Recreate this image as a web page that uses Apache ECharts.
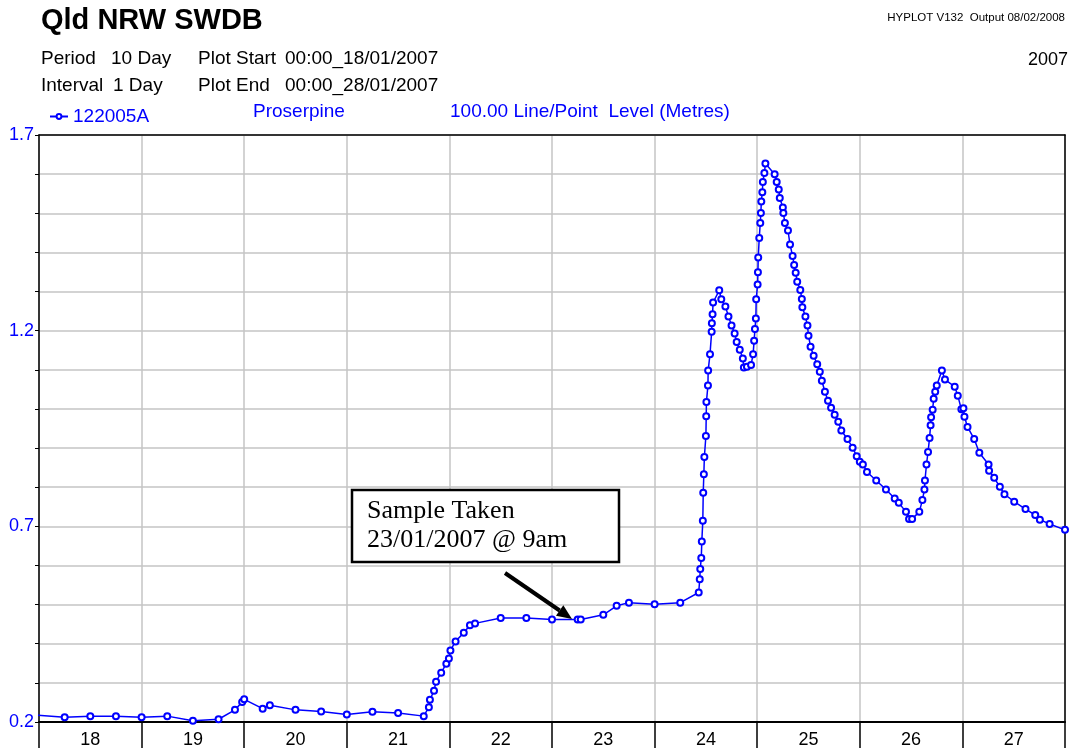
<!DOCTYPE html>
<html>
<head>
<meta charset="utf-8">
<script src="https://cdn.jsdelivr.net/npm/echarts@6/dist/echarts.min.js"></script>
<style>
  html, body { margin: 0; padding: 0; background: #fff; }
  #chart { width: 1072px; height: 749px; }
</style>
</head>
<body>
<div id="chart"></div>
<script>
// day labels shown in the middle of each day
const dayLabels = ['18', '19', '20', '21', '22', '23', '24', '25', '26', '27'];

// time of each reading, in day of January 2007 (decimal)
const readingDays = [
  17.75, 18.25, 18.5, 18.75, 19.0, 19.25, 19.5, 19.75, 19.91, 19.98,
  20.0, 20.18, 20.25, 20.5, 20.75, 21.0, 21.25, 21.5, 21.75, 21.8,
  21.81, 21.85, 21.87, 21.92, 21.97, 21.995, 22.01, 22.06, 22.14, 22.2,
  22.25, 22.5, 22.75, 23.0, 23.25, 23.28, 23.5, 23.63, 23.75, 24.0,
  24.25, 24.43, 24.44, 24.445, 24.455, 24.46, 24.47, 24.474, 24.48, 24.485,
  24.5, 24.503, 24.505, 24.52, 24.522, 24.54, 24.556, 24.558, 24.565, 24.57,
  24.63, 24.65, 24.69, 24.72, 24.75, 24.78, 24.8, 24.83, 24.86, 24.87,
  24.9, 24.94, 24.96, 24.97, 24.978, 24.987, 24.99, 25.004, 25.007, 25.01,
  25.02, 25.03, 25.036, 25.04, 25.05, 25.055, 25.07, 25.08, 25.17, 25.19,
  25.21, 25.22, 25.25, 25.255, 25.27, 25.3, 25.32, 25.345, 25.36, 25.375,
  25.39, 25.42, 25.435, 25.44, 25.47, 25.49, 25.5, 25.52, 25.55, 25.585,
  25.61, 25.63, 25.66, 25.69, 25.72, 25.755, 25.79, 25.82, 25.88, 25.93,
  25.97, 26.0, 26.03, 26.07, 26.16, 26.255, 26.34, 26.38, 26.45, 26.48,
  26.51, 26.58, 26.61, 26.63, 26.635, 26.65, 26.665, 26.68, 26.69, 26.695,
  26.71, 26.72, 26.735, 26.75, 26.8, 26.83, 26.925, 26.955, 26.99, 27.01,
  27.02, 27.05, 27.115, 27.165, 27.255, 27.26, 27.31, 27.365, 27.41, 27.505,
  27.615, 27.71, 27.755, 27.85, 28.0
];

// water level (metres) at each reading
const levels = [
  0.222, 0.212, 0.215, 0.215, 0.212, 0.215, 0.203, 0.207, 0.231, 0.251,
  0.258, 0.234, 0.243, 0.231, 0.227, 0.219, 0.226, 0.223, 0.215, 0.238,
  0.257, 0.280, 0.303, 0.326, 0.349, 0.362, 0.383, 0.406, 0.428, 0.447,
  0.452, 0.466, 0.466, 0.462, 0.462, 0.462, 0.474, 0.497, 0.505, 0.501,
  0.505, 0.531, 0.565, 0.591, 0.619, 0.661, 0.714, 0.786, 0.833, 0.877,
  0.931, 0.981, 1.018, 1.060, 1.098, 1.140, 1.197, 1.219, 1.242, 1.272,
  1.303, 1.280, 1.262, 1.236, 1.213, 1.193, 1.171, 1.151, 1.129, 1.106,
  1.108, 1.112, 1.140, 1.174, 1.204, 1.231, 1.280, 1.318, 1.349, 1.387,
  1.437, 1.475, 1.501, 1.530, 1.554, 1.580, 1.603, 1.627, 1.600, 1.580,
  1.561, 1.539, 1.515, 1.501, 1.475, 1.456, 1.420, 1.391, 1.368, 1.348,
  1.325, 1.304, 1.281, 1.260, 1.236, 1.213, 1.187, 1.159, 1.136, 1.114,
  1.095, 1.072, 1.044, 1.021, 1.003, 0.985, 0.967, 0.945, 0.923, 0.901,
  0.879, 0.865, 0.858, 0.839, 0.817, 0.794, 0.771, 0.760, 0.737, 0.719,
  0.719, 0.737, 0.767, 0.794, 0.817, 0.858, 0.890, 0.926, 0.958, 0.979,
  0.998, 1.026, 1.044, 1.060, 1.098, 1.075, 1.057, 1.034, 0.999, 1.002,
  0.980, 0.954, 0.923, 0.888, 0.858, 0.842, 0.824, 0.801, 0.782, 0.763,
  0.744, 0.729, 0.717, 0.706, 0.691
];

// y labels drawn only every 0.5 m
const yLabelValues = [0.2, 0.7, 1.2, 1.7];

const BLUE = '#0000ff';
const SANS = '"Liberation Sans", Arial, sans-serif';
const SERIF = '"Liberation Serif", "Times New Roman", serif';

let myChart = echarts.init(document.getElementById('chart'), null, { renderer: 'canvas' });

function headerText(x, y, text, size, color, align, weight) {
  return {
    type: 'text', x: x, y: y, z: 10,
    style: {
      text: text, fill: color || '#000', font: (weight || 'normal') + ' ' + size + 'px ' + SANS,
      textAlign: align || 'left', textVerticalAlign: 'middle'
    }
  };
}

// plain black frame line for the top and right sides of the plot
const frameAxis = {
  axisLine: { show: true, lineStyle: { color: '#000', width: 1.5 } },
  axisTick: { show: false }, axisLabel: { show: false }, splitLine: { show: false }
};

// arrow from the note box to the sample point
const tip = [572, 619];
const from = [505, 573];
const dx = tip[0] - from[0], dy = tip[1] - from[1];
const len = Math.sqrt(dx * dx + dy * dy);
const ux = dx / len, uy = dy / len;
const base = [tip[0] - 15 * ux, tip[1] - 15 * uy];
const px = -uy * 6.5, py = ux * 6.5;

let option = {
  animation: false,
  backgroundColor: '#fff',
  grid: {
    left: 39, top: 135, width: 1026, height: 588
  },
  legend: {
    left: 44, top: 102,
    data: ['122005A'],
    itemWidth: 18, itemHeight: 6, itemGap: 6,
    textStyle: { color: BLUE, fontSize: 19, fontFamily: SANS },
    selectedMode: false
  },
  xAxis: [
    {
      type: 'value', min: 18, max: 28, interval: 1,
      axisLine: { show: true, lineStyle: { color: '#000', width: 2 } },
      axisTick: { show: true, inside: false, length: 26, lineStyle: { color: '#000', width: 1.5 } },
      axisLabel: { show: false },
      splitLine: { show: true, lineStyle: { color: '#c4c4c4', width: 1.5 } }
    },
    {
      type: 'category', position: 'bottom', data: dayLabels, boundaryGap: true,
      axisLine: { show: false }, axisTick: { show: false }, splitLine: { show: false },
      axisLabel: { color: '#000', fontSize: 18, fontFamily: SANS, margin: 9, interval: 0 }
    },
    Object.assign({ type: 'value', position: 'top', min: 18, max: 28 }, frameAxis)
  ],
  yAxis: [
    {
      type: 'value', min: 0.2, max: 1.7, interval: 0.1,
      axisLine: { show: true, lineStyle: { color: '#000', width: 1.5 } },
      axisTick: { show: true, inside: false, length: 4, lineStyle: { color: '#000' } },
      axisLabel: {
        color: BLUE, fontSize: 18, fontFamily: SANS, margin: 5,
        formatter: function (v) {
          let hit = yLabelValues.find(l => Math.abs(l - v) < 1e-6);
          return hit !== undefined ? hit.toFixed(1) : '';
        }
      },
      splitLine: { show: true, lineStyle: { color: '#c4c4c4', width: 1.5 } }
    },
    Object.assign({ type: 'value', position: 'right', min: 0.2, max: 1.7 }, frameAxis)
  ],
  series: [
    {
      name: '122005A',
      type: 'line',
      xAxisIndex: 0,
      yAxisIndex: 0,
      clip: true,
      data: readingDays.map((d, i) => [d, levels[i]]),
      symbol: 'emptyCircle',
      symbolSize: 6,
      showAllSymbol: true,
      itemStyle: { color: BLUE, borderColor: BLUE, borderWidth: 1.5 },
      lineStyle: { color: BLUE, width: 1.5 },
      z: 5
    }
  ],
  graphic: [
    headerText(41, 21, 'Qld NRW SWDB', 29, '#000', 'left', 'bold'),
    headerText(41, 59, 'Period', 19),
    headerText(111, 59, '10 Day', 19),
    headerText(198, 59, 'Plot Start', 19),
    headerText(285, 59, '00:00_18/01/2007', 19),
    headerText(41, 86, 'Interval', 19),
    headerText(113, 86, '1 Day', 19),
    headerText(198, 86, 'Plot End', 19),
    headerText(285, 86, '00:00_28/01/2007', 19),
    headerText(253, 112, 'Proserpine', 19, BLUE),
    headerText(450, 112, '100.00 Line/Point  Level (Metres)', 19, BLUE),
    headerText(1065, 18, 'HYPLOT V132  Output 08/02/2008', 11.5, '#000', 'right'),
    headerText(1068, 60, '2007', 18, '#000', 'right'),
    {
      type: 'rect', z: 20,
      shape: { x: 352, y: 490, width: 267, height: 72 },
      style: { fill: '#fff', stroke: '#000', lineWidth: 2.5 }
    },
    {
      type: 'text', z: 21, x: 367, y: 511,
      style: { text: 'Sample Taken', fill: '#000', font: '26px ' + SERIF, textVerticalAlign: 'middle' }
    },
    {
      type: 'text', z: 21, x: 367, y: 540,
      style: { text: '23/01/2007 @ 9am', fill: '#000', font: '26px ' + SERIF, textVerticalAlign: 'middle' }
    },
    {
      type: 'line', z: 21,
      shape: { x1: from[0], y1: from[1], x2: base[0], y2: base[1] },
      style: { stroke: '#000', lineWidth: 4 }
    },
    {
      type: 'polygon', z: 21,
      shape: { points: [tip, [base[0] + px, base[1] + py], [base[0] - px, base[1] - py]] },
      style: { fill: '#000' }
    }
  ]
};

myChart.setOption(option);
</script>
</body>
</html>
